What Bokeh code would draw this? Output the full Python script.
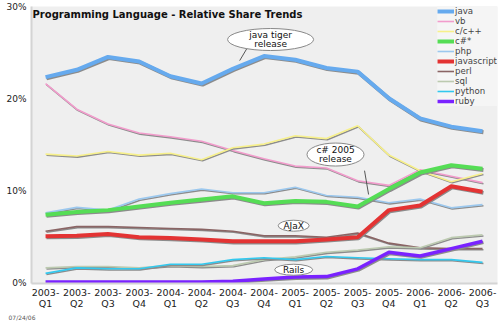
from bokeh.plotting import figure
from bokeh.models import Range1d, FixedTicker, Legend, LegendItem, Label, ColumnDataSource, Title
from bokeh.transform import dodge
from bokeh.embed import file_html
from bokeh.resources import INLINE
from bokeh.core.properties import value

quarters = ["2003-\nQ1", "2003-\nQ2", "2003-\nQ3", "2003-\nQ4",
            "2004-\nQ1", "2004-\nQ2", "2004-\nQ3", "2004-\nQ4",
            "2005-\nQ1", "2005-\nQ2", "2005-\nQ3", "2005-\nQ4",
            "2006-\nQ1", "2006-\nQ2", "2006-\nQ3"]

java = [22.4, 23.2, 24.6, 24.1, 22.5, 21.7, 23.3, 24.7, 24.3, 23.4, 23.0, 20.1, 17.9, 17.0, 16.5]
vb = [21.7, 18.9, 17.3, 16.3, 15.9, 15.4, 14.4, 13.5, 12.7, 12.5, 11.1, 10.6, 12.3, 11.6, 10.9]
cpp = [14.0, 13.8, 14.3, 13.9, 14.1, 13.4, 14.7, 15.1, 16.0, 15.7, 17.1, 13.9, 12.2, 11.0, 11.9]
csharp = [7.4, 7.7, 7.9, 8.3, 8.7, 9.05, 9.4, 8.65, 8.9, 8.8, 8.3, 10.2, 12.0, 12.8, 12.4]
php = [7.6, 8.2, 7.9, 9.1, 9.7, 10.2, 9.8, 9.8, 10.4, 9.5, 9.3, 8.7, 9.1, 8.15, 8.5]
javascript = [5.05, 5.1, 5.3, 4.95, 4.85, 4.7, 4.5, 4.5, 4.5, 4.7, 4.95, 7.9, 8.4, 10.5, 9.9]
perl = [5.6, 6.1, 6.1, 6.0, 5.9, 5.8, 5.6, 5.1, 5.1, 4.95, 5.4, 4.3, 3.8, 3.7, 3.7]
sql = [1.6, 1.75, 1.75, 1.6, 1.85, 1.75, 1.85, 2.5, 2.8, 3.3, 3.55, 3.9, 3.8, 4.9, 5.2]
python = [1.0, 1.6, 1.5, 1.5, 2.0, 2.0, 2.5, 2.7, 2.5, 2.85, 2.7, 2.6, 2.5, 2.5, 2.2]
ruby = [0.05, 0.05, 0.05, 0.05, 0.05, 0.05, 0.15, 0.4, 0.6, 0.65, 1.5, 3.3, 2.9, 3.7, 4.5]

y_ticks = [0, 10, 20, 30]
y_tick_labels = ["0%", "10%", "20%", "30%"]

names = ["java", "vb", "c/c++", "c#*", "php", "javascript", "perl", "sql", "python", "ruby"]
series = [java, vb, cpp, csharp, php, javascript, perl, sql, python, ruby]
colors = ["#66aaee", "#f29ccc", "#f7f08a", "#55dd55", "#9cc8ee", "#e33333",
          "#8a6464", "#bccab0", "#33c8ee", "#7a22ff"]
widths = [4, 1.6, 1.6, 4, 1.6, 4, 1.6, 1.6, 1.6, 3.5]
draw_order = [1, 2, 4, 6, 7, 8, 5, 3, 9, 0]

FONT = "DejaVu Sans"

p = figure(width=500, height=323, output_backend="svg", toolbar_location=None,
           x_range=Range1d(-0.45, 14.48), y_range=Range1d(-0.1, 30.1),
           min_border_left=31, min_border_right=3, min_border_top=6, min_border_bottom=40,
           background_fill_color="#efefef", border_fill_color="white")
p.outline_line_color = None
p.xgrid.visible = False
p.ygrid.visible = False

p.yaxis.ticker = FixedTicker(ticks=y_ticks)
p.yaxis.major_label_overrides = {t: l for t, l in zip(y_ticks, y_tick_labels)}
p.xaxis.ticker = FixedTicker(ticks=list(range(len(quarters))))
p.xaxis.major_label_overrides = {i: q for i, q in enumerate(quarters)}
for ax in (p.xaxis[0], p.yaxis[0]):
    ax.axis_line_color = "#d4d4d4"
    ax.axis_line_width = 2
    ax.major_tick_line_color = None
    ax.minor_tick_line_color = None
    ax.major_tick_out = 0
    ax.major_tick_in = 0
    ax.minor_tick_out = 0
    ax.major_label_text_font = FONT
    ax.major_label_text_color = "#222222"
p.yaxis.major_label_text_font_size = "9px"
p.yaxis.major_label_standoff = 5
p.xaxis.major_label_text_font_size = "9.5px"
p.xaxis.major_label_standoff = 3
p.xaxis.major_label_text_line_height = 1.05

renderers = {}
for i in draw_order:
    src = ColumnDataSource(dict(x=list(range(len(quarters))), y=series[i]))
    p.line(x=dodge("x", 0.03), y=dodge("y", -0.12), source=src,
           line_color="#8c8c8c", line_width=widths[i])
    renderers[i] = p.line(x="x", y="y", source=src, line_color=colors[i],
                          line_width=widths[i], line_join="round")

legend = Legend(items=[LegendItem(label=names[i], renderers=[renderers[i]]) for i in range(len(names))],
                location="top_right", glyph_width=17, glyph_height=8, label_height=8,
                label_standoff=1, spacing=0, padding=3, margin=0,
                label_text_font=FONT, label_text_font_size="8.6px", label_text_line_height=1.0,
                background_fill_color="#f4f4f4", border_line_color=None)
p.add_layout(legend)

p.add_layout(Label(x=-0.45, y=30.1, x_offset=1, y_offset=-2, text="Programming Language - Relative Share Trends",
                   text_baseline="top", text_font=FONT, text_font_size="10px",
                   text_font_style="bold", text_color="#111111"))
date_title = Title(text="07/24/06", align="left", offset=-23, standoff=0,
                   text_font=FONT, text_font_size="6px", text_font_style="normal",
                   text_line_height=1.0, text_color="#555555")
try:
    date_title.standoff = -2
except Exception:
    date_title.standoff = 0
p.add_layout(date_title, "below")

# callouts
cx = [7.21, 9.29, 7.95, 7.95]
cy = [26.5, 13.96, 6.2, 1.4]
cw = [86, 57, 31, 38]
ch = [22, 23, 11, 11]
ct = ["java tiger\nrelease", "c# 2005\nrelease", "AJaX", "Rails"]
p.segment(x0=[6.57, 10.22], y0=[26.2, 12.2], x1=[6.22, 10.35], y1=[24.2, 9.6],
          line_color="#555555", line_width=1)
p.ellipse(x=cx, y=cy, width=cw, height=ch, width_units="screen", height_units="screen",
          fill_color="white", line_color="#888888", line_width=1)
p.text(x=cx, y=cy, text=ct, text_align="center", text_baseline="middle",
       text_font=value(FONT), text_font_size="9px", text_color="#111111", text_line_height=0.95)

open("out.html", "w").write(file_html(p, INLINE))
